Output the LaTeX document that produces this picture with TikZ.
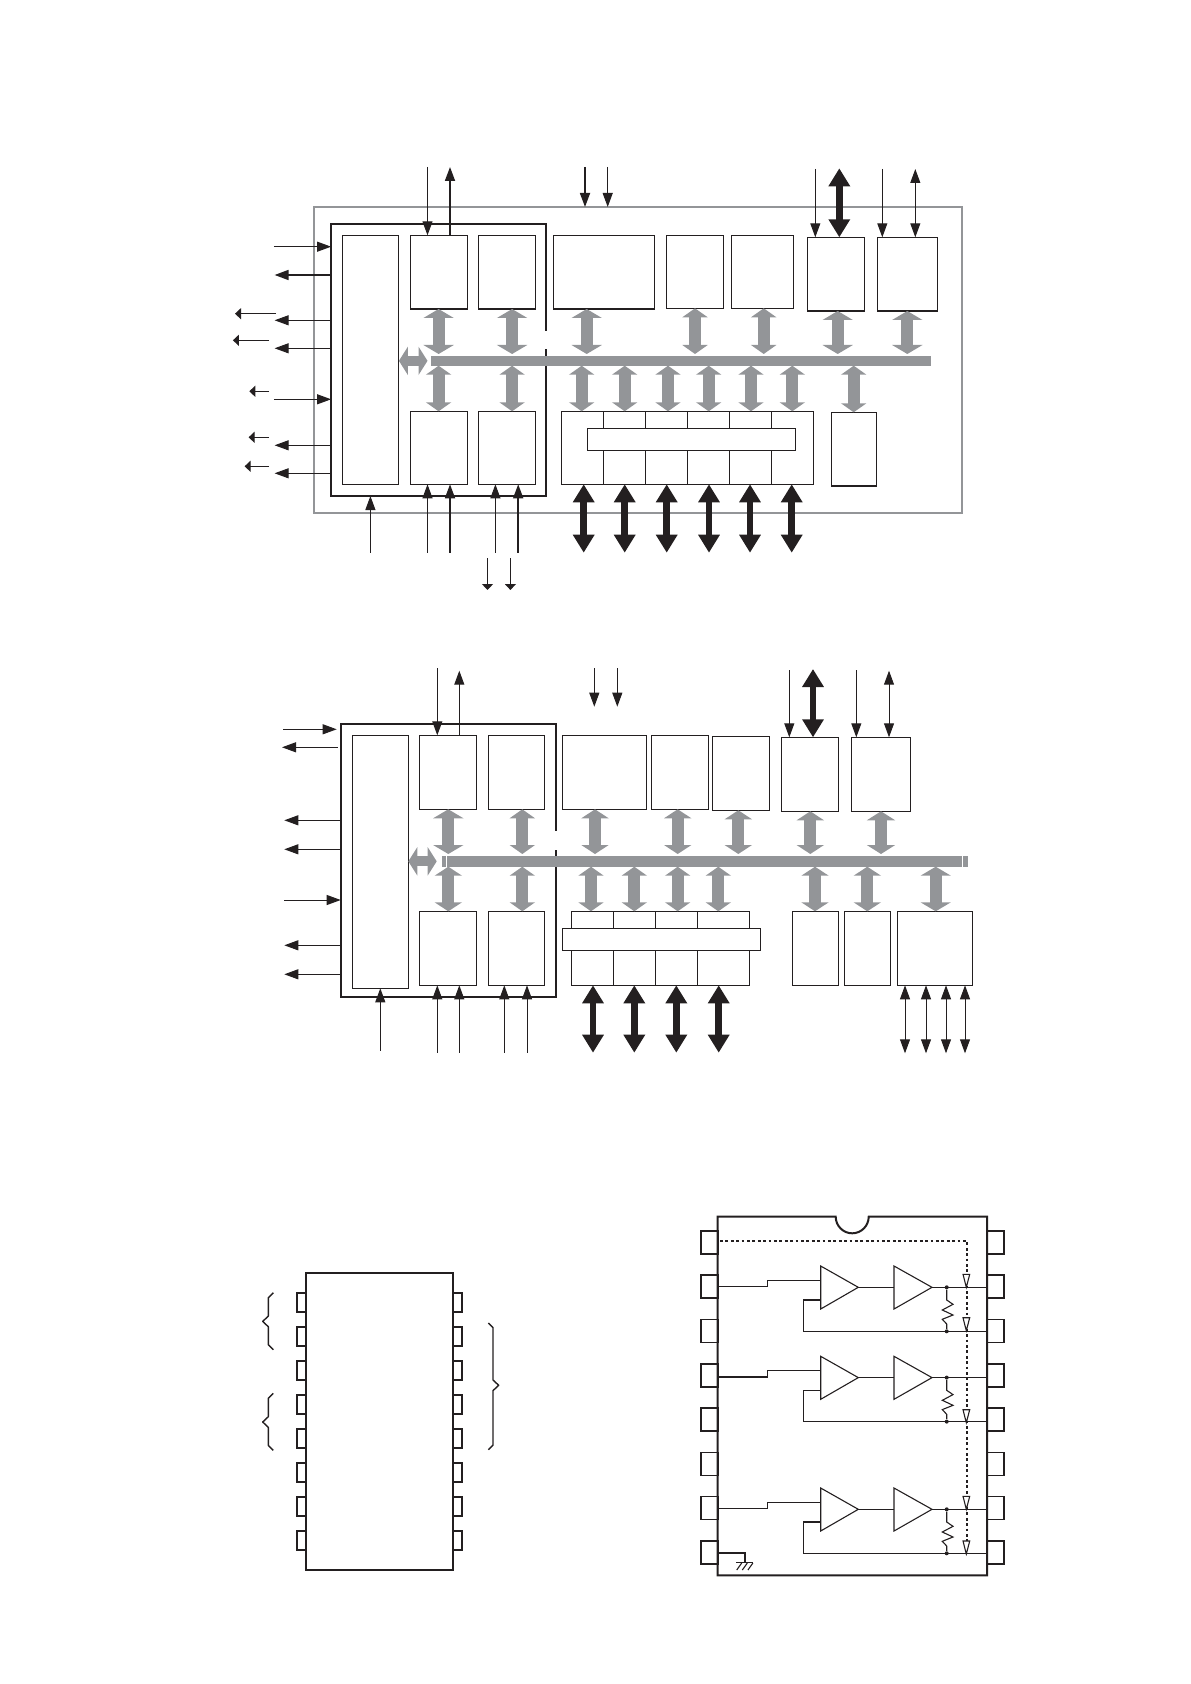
\documentclass[tikz,border=0pt]{standalone}
\usepackage{xcolor}
\usetikzlibrary{arrows.meta, positioning}
\definecolor{ink}{HTML}{231F20}
\definecolor{busgray}{HTML}{939598}

\begin{document}
\begin{tikzpicture}[
  x=0.5pt, y=-0.5pt,
  wh/.style 2 args={minimum width=#1*0.5pt, minimum height=#2*0.5pt},
  plain/.style={rectangle, anchor=north west, inner sep=0pt, outer sep=0pt},
  block/.style={plain, draw=ink, line width=0.55pt},
  barblock/.style={block, fill=white},
  bus/.style={plain, fill=busgray},
  sig/.style={-{Triangle[length=7pt, width=5pt]}, draw=ink, line width=0.5pt},
  sigheavy/.style={sig, line width=0.85pt},
  stub/.style={-{Triangle[length=3pt, width=5.5pt]}, draw=ink, line width=0.6pt},
  twoway/.style={{Triangle[length=7pt, width=5pt]}-{Triangle[length=7pt, width=5pt]}, draw=ink, line width=0.5pt},
  power/.style={{Triangle[length=9pt, width=10.3pt]}-{Triangle[length=9pt, width=10.3pt]}, draw=ink, line width=3.3pt},
  busarrow/.style={{Triangle[length=4.5pt, width=#1]}-{Triangle[length=4.5pt, width=#1]}, draw=busgray, line width=6pt},
  busarrow/.default=12.5pt,
  frameline/.style={draw=ink, line width=0.9pt},
  icpin/.style={block, line width=0.8pt},
  wire/.style={draw=ink, line width=0.55pt},
  chipline/.style={draw=ink, line width=1pt},
  dotlink/.style={draw=ink, line width=0.8pt, dash pattern=on 1.35pt off 1.35pt},
  joint/.style={circle, fill=ink, inner sep=0pt, minimum size=2pt}
]
\useasboundingbox (0,0) rectangle (1190,1684);

% first block diagram
\node[plain, draw=busgray, line width=1pt, wh={648}{305.7}] (outer) at (313.9,207) {};
\node[plain, wh={215}{272}] (core) at (331.1,224) {};
\draw[frameline] (core.east |- 0,331) |- (core.north west) |- (core.south east) -- (core.east |- 0,349);

\node[block, wh={56.4}{249}] (tall) at (342.5,235.3) {};
\node[block, wh={56.7}{73.7}] (a1) at (410.4,235.3) {};
\node[block, wh={57.2}{73.7}] (a2) at (478.2,235.3) {};
\node[block, wh={56.7}{73}] (a3) at (410.4,411.3) {};
\node[block, wh={57.2}{73}] (a4) at (478.2,411.3) {};
\node[block, wh={101}{73.7}] (b1) at (553.3,235.3) {};
\node[block, wh={56.6}{73}] (b2) at (666.7,235.3) {};
\node[block, wh={62}{73}] (b3) at (731.3,235.3) {};
\node[block, wh={56.6}{73.7}] (b4) at (807.7,237.3) {};
\node[block, wh={60}{73.7}] (b5) at (877.3,237.3) {};
\node[block, wh={44.6}{73.7}] (b6) at (831.7,412.3) {};
\foreach \x [count=\i] in {561.3,603.3,645.3,687.3,729.3,771.3}
  \node[block, wh={42}{73}] (t\i) at (\x,411.3) {};
\node[barblock, wh={208}{22}] (tbar) at (587.3,428.3) {};
\node[bus, wh={500}{9.7}] (bus1) at (430.7,356) {};

\foreach \x/\b/\w in {438.6/a1/15pt, 512.1/a2/15pt, 586.7/b1/15pt, 695/b2/12.5pt, 763.7/b3/12.5pt, 837.7/b4/15pt, 907.3/b5/15pt}
  \draw[busarrow=\w, shorten >=1pt] (\x,0 |- \b.south) -- (\x,0 |- bus1.north);
\foreach \x/\b in {438.6/a3, 512.1/a4, 581.7/t1, 624.7/t2, 668/t3, 708.7/t4, 751/t5, 792.3/t6, 853.7/b6}
  \draw[busarrow] (\x,0 |- bus1.south) -- (\x,0 |- \b.north);
\coordinate (hub) at (427.5,360);
\draw[busarrow=14pt, line width=5pt] (tall.east |- bus1.west) -- (hub |- bus1.west);

\coordinate (tp1) at (427.5,167);
\coordinate (tp2) at (450,167);
\coordinate (tp3) at (585,167);
\coordinate (tp4) at (607.7,167);
\coordinate (tp5) at (815.3,169);
\coordinate (tp6) at (839.3,168.3);
\coordinate (tp7) at (882.3,169);
\coordinate (tp8) at (915.3,169);
\draw[sig] (tp1) -- (tp1 |- a1.north);
\draw[sigheavy] (tp2 |- a1.north) -- (tp2);
\draw[sigheavy] (tp3) -- (tp3 |- outer.north);
\draw[sig] (tp4) -- (tp4 |- outer.north);
\draw[sig] (tp5) -- (tp5 |- b4.north);
\draw[power] (tp6) -- (tp6 |- b4.north);
\draw[sig] (tp7) -- (tp7 |- b5.north);
\draw[twoway] (tp8) -- (tp8 |- b5.north);

\coordinate (li1) at (273.9,246.7);
\coordinate (li2) at (273.9,399.3);
\coordinate (lo0) at (274.6,275);
\draw[sig] (li1) -- (li1 -| core.west);
\draw[sig] (li2) -- (li2 -| core.west);
\draw[sigheavy] (lo0 -| core.west) -- (lo0);
\foreach \y [count=\i] in {320.3,348.3,445.3,473.3} {
  \coordinate (lo\i) at (274.6,\y);
  \draw[sig] (lo\i -| core.west) -- (lo\i);
}
\foreach \xa/\xb/\y [count=\i] in {276/235/313.7, 269/232.9/340.3, 269/249.3/391.3, 269/248.6/437.3, 269/244.6/466.3} {
  \coordinate (sa\i) at (\xa,\y);
  \coordinate (sb\i) at (\xb,\y);
  \draw[stub] (sa\i) -- (sb\i);
}

\coordinate (bi1) at (370.4,552.7);
\coordinate (bi2) at (427.5,552.7);
\coordinate (bi3) at (450,552.7);
\coordinate (bi4) at (495.4,552.7);
\coordinate (bi5) at (518.2,552.7);
\draw[sig] (bi1) -- (bi1 |- core.south);
\draw[sig] (bi2) -- (bi2 |- a3.south);
\draw[sigheavy] (bi3) -- (bi3 |- a3.south);
\draw[sig] (bi4) -- (bi4 |- a4.south);
\draw[sigheavy] (bi5) -- (bi5 |- a4.south);
\foreach \x [count=\i] in {487.5,510.4} {
  \coordinate (da\i) at (\x,558);
  \coordinate (db\i) at (\x,590);
  \draw[stub] (da\i) -- (db\i);
}
\foreach \x [count=\i] in {583.7,624.7,666.7,709,750,791.7} {
  \coordinate (pw\i) at (\x,552.7);
  \draw[power] (pw\i |- t1.south) -- (pw\i);
}

% second block diagram
\node[plain, wh={215.3}{272.7}] (coreB) at (340.7,724) {};
\draw[frameline] (coreB.east |- 0,830.7) |- (coreB.north west) |- (coreB.south east) -- (coreB.east |- 0,850.3);

\node[block, wh={56}{253}] (tallB) at (352.3,735.3) {};
\node[block, wh={57}{74}] (c1) at (419.3,735.3) {};
\node[block, wh={56}{74}] (c2) at (488.3,735.3) {};
\node[block, wh={57}{74}] (c3) at (419.3,911.3) {};
\node[block, wh={56}{74}] (c4) at (488.3,911.3) {};
\node[block, wh={84}{74}] (d1) at (562.3,735.3) {};
\node[block, wh={57}{74}] (d2) at (651.3,735.3) {};
\node[block, wh={57}{74}] (d3) at (712.3,736.3) {};
\node[block, wh={57}{74}] (d4) at (781.3,737.3) {};
\node[block, wh={59}{74}] (d5) at (851.3,737.3) {};
\node[block, wh={46}{74}] (e1) at (792.3,911.3) {};
\node[block, wh={46}{74}] (e2) at (844.3,911.3) {};
\node[block, wh={75}{74}] (e3) at (897.3,911.3) {};
\foreach \x/\w [count=\i] in {571.3/42, 613.3/42.4, 655.7/42, 697.7/51.6}
  \node[block, wh={\w}{74}] (u\i) at (\x,911.3) {};
\node[barblock, wh={198}{22}] (ubar) at (562.3,928.3) {};
\node[bus, wh={525.7}{10.7}] (bus2) at (442,856) {};
\foreach \x in {446.7,962.3}
  \draw[white, line width=0.4pt] (\x,0 |- bus2.north) -- (\x,0 |- bus2.south);

\foreach \x/\b/\w in {448.3/c1/15pt, 522.3/c2/12.5pt, 595/d1/13.5pt, 677.7/d2/13.5pt, 738.3/d3/13.5pt, 810.3/d4/13.5pt, 881/d5/14pt}
  \draw[busarrow=\w, shorten >=1pt] (\x,0 |- \b.south) -- (\x,0 |- bus2.north);
\foreach \x/\b/\w in {448.3/c3/13.5pt, 522.3/c4/12.5pt, 591/u1/12.5pt, 634.3/u2/12.5pt, 677.7/u3/12.5pt, 718.3/u4/12.5pt, 815/e1/13.5pt, 867.3/e2/13.5pt, 935.7/e3/15pt}
  \draw[busarrow=\w] (\x,0 |- bus2.south) -- (\x,0 |- \b.north);
\coordinate (hubB) at (436.7,860);
\draw[busarrow=14pt, line width=5pt] (tallB.east |- bus2.west) -- (hubB |- bus2.west);

\coordinate (tq1) at (437.3,668.3);
\coordinate (tq2) at (459.3,670.7);
\coordinate (tq3) at (594.3,668.3);
\coordinate (tq4) at (617.3,668.3);
\coordinate (tq5) at (789.3,670);
\coordinate (tq6) at (813,669);
\coordinate (tq7) at (856.3,670);
\coordinate (tq8) at (889,670.7);
\coordinate (tqe) at (0,706.7);
\draw[sig] (tq1) -- (tq1 |- c1.north);
\draw[sig] (tq2 |- c1.north) -- (tq2);
\draw[sig] (tq3) -- (tq3 |- tqe);
\draw[sig] (tq4) -- (tq4 |- tqe);
\draw[sig] (tq5) -- (tq5 |- d4.north);
\draw[power] (tq6) -- (tq6 |- d4.north);
\draw[sig] (tq7) -- (tq7 |- d5.north);
\draw[twoway] (tq8) -- (tq8 |- d5.north);

\coordinate (mi1) at (283,729.3);
\coordinate (mi2) at (336.7,729.3);
\coordinate (mo1) at (337.7,747.3);
\coordinate (mo2) at (282,747.3);
\coordinate (mi3) at (284,900);
\draw[sig] (mi1) -- (mi2);
\draw[sig] (mo1) -- (mo2);
\draw[sig] (mi3) -- (mi3 -| coreB.west);
\foreach \y [count=\i] in {820.3,849.3,945.3,974.3} {
  \coordinate (mq\i) at (284.3,\y);
  \draw[sig] (mq\i -| coreB.west) -- (mq\i);
}

\coordinate (bq1) at (380.3,1050.7);
\coordinate (bq2) at (437.3,1052.7);
\coordinate (bq3) at (459.3,1052.7);
\coordinate (bq4) at (504.3,1052.7);
\coordinate (bq5) at (527,1052.7);
\draw[sig] (bq1) -- (bq1 |- tallB.south);
\draw[sig] (bq2) -- (bq2 |- c3.south);
\draw[sig] (bq3) -- (bq3 |- c3.south);
\draw[sig] (bq4) -- (bq4 |- c4.south);
\draw[sig] (bq5) -- (bq5 |- c4.south);
\foreach \x [count=\i] in {593,634.3,676.3,718.7} {
  \coordinate (pv\i) at (\x,1052.7);
  \draw[power] (pv\i |- u1.south) -- (pv\i);
}
\foreach \x [count=\i] in {905,926,946,965} {
  \coordinate (iv\i) at (\x,1053.3);
  \draw[twoway] (iv\i |- e3.south) -- (iv\i);
}

% pinout
\foreach \k in {0,...,7} {
  \node[icpin, wh={8.7}{19}] (pl\k) at (297,{1292.7+34*\k}) {};
  \node[icpin, wh={8.7}{19}] (pr\k) at (453,{1292.7+34*\k}) {};
}
\node[plain, draw=ink, line width=0.9pt, wh={147.3}{297.6}] (chip) at (305.7,1272.7) {};
\foreach \y in {1292.7,1393.3}
  \draw[wire, line width=0.7pt, line join=round] (273.3,\y) -- (268.3,{\y+5}) -- (268.3,{\y+23.4}) -- (262.7,{\y+28.7}) -- (268.3,{\y+34}) -- (268.3,{\y+52}) -- (273.3,{\y+57});
\draw[wire, line width=0.7pt, line join=round] (488.3,1323) -- (493,1327.5) -- (493,1380) -- (498.7,1385.3) -- (493,1390.6) -- (493,1445) -- (488.3,1449.7);

% amplifier chip
\foreach \k in {0,...,7} {
  \node[icpin, wh={17}{23}] (ql\k) at (700.7,{1230.7+44.33*\k}) {};
  \node[icpin, wh={17}{23}] (qr\k) at (987,{1230.7+44.33*\k}) {};
}
\draw[chipline] (717.7,1216.7) -- (835.7,1216.7) .. controls (835.7,1225.8) and (843.1,1233.3) .. (852.2,1233.3) .. controls (861.3,1233.3) and (868.7,1225.8) .. (868.7,1216.7) -- (987,1216.7) -- (987,1575.3) -- (717.7,1575.3) -- cycle;
\draw[dotlink] (720,1241) -- (967,1241) -- (967,1551);

\foreach \d/\n in {0/sa, 90.3/sb, 222/sc} {
  \begin{scope}[shift={(0,\d)}]
    \coordinate (\n in) at (719.3,1286.7);
    \coordinate (\n fb) at (820.7,1300);
    \coordinate (\n tipa) at (858.3,1287.3);
    \coordinate (\n basb) at (894,1287.3);
    \coordinate (\n tipb) at (932,1287.3);
    \coordinate (\n outa) at (986.3,1287.3);
    \coordinate (\n outb) at (986.3,1331.3);
    \draw[wire] (820.7,1266) -- (\n tipa) -- (820.7,1309) -- cycle;
    \draw[wire] (894,1266) -- (\n tipb) -- (894,1309) -- cycle;
    \draw[wire] (\n in) -- (767.7,1286.7) -- (767.7,1280.3) -- (820.7,1280.3);
    \draw[wire] (\n fb) -- (803.3,1300) -- (803.3,1331.3) -- (\n outb);
    \draw[wire] (\n tipa) -- (\n basb);
    \draw[wire] (\n tipb) -- (\n outa);
    \node[joint] (\n dota) at (946.7,1287.3) {};
    \node[joint] (\n dotb) at (946.7,1331.3) {};
    \draw[wire] (\n dota) -- (946.7,1300) -- (953,1304.3) -- (942.3,1310) -- (953,1315) -- (942.3,1319.3) -- (946.7,1324) -- (\n dotb);
  \end{scope}
}
\foreach \y in {1287.3,1330.7,1422.7,1509.3,1554}
  \draw[wire, fill=white] (963,{\y-13}) -- (969.7,{\y-13}) -- (966.3,\y) -- cycle;

\draw[wire] (718,1553) -- (745,1553) -- (745,1562.3);
\draw[wire, line width=0.8pt] (736,1562.3) -- (753.3,1562.3);
\foreach \x in {736.7,742.3,747.9}
  \draw[wire] ({\x+5},1563) -- (\x,1570);

\end{tikzpicture}
\end{document}
